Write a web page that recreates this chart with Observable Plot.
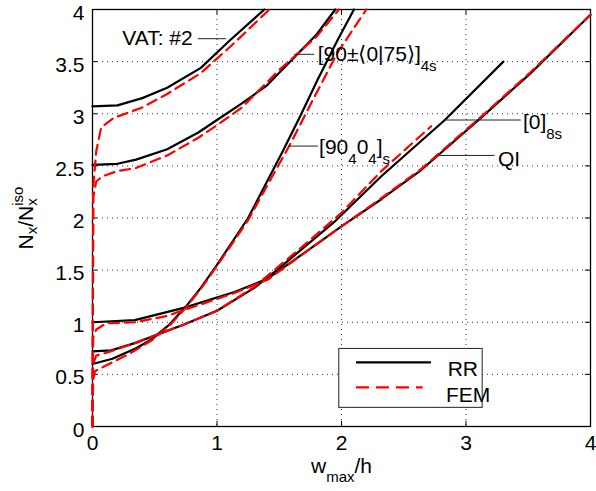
<!DOCTYPE html>
<html><head><meta charset="utf-8">
<script src="https://cdn.jsdelivr.net/npm/d3@7"></script>
<script src="https://cdn.jsdelivr.net/npm/@observablehq/plot@0.6"></script>
<style>body{margin:0;background:#fff}</style>
</head><body><div id="chart"></div>
<script>
// ---- data ----
const xTicks = [0, 1, 2, 3, 4];
const yTicks = [0, 0.5, 1, 1.5, 2, 2.5, 3, 3.5, 4];

// RR (Rayleigh-Ritz) curves
const rrVAT2 = [[0,3.07],[0.2,3.08],[0.4,3.15],[0.6,3.25],[0.87,3.44],[1.1,3.70],[1.38,4.0]];
const rrVAT75 = [[0,2.51],[0.2,2.52],[0.35,2.56],[0.6,2.66],[0.85,2.82],[1.0,2.94],[1.2,3.10],[1.4,3.27],[1.62,3.54],[1.8,3.76],[1.95,4.0]];
const rrCross = [[0,0.6],[0.16,0.65],[0.35,0.75],[0.48,0.84],[0.62,0.98],[0.75,1.15],[0.87,1.33],[1.0,1.55],[1.25,2.0],[1.52,2.62],[1.67,2.98],[1.81,3.33],[1.97,3.71],[2.1,4.0]];
const rrZero = [[0,0.72],[0.15,0.73],[0.34,0.80],[0.74,0.98],[1.0,1.11],[1.3,1.33],[1.5,1.52],[1.67,1.69],[1.94,1.96],[2.32,2.40],[2.83,2.94],[3.3,3.5]];
const rrQI = [[0,1.0],[0.34,1.02],[0.74,1.14],[1.14,1.29],[1.41,1.42],[1.73,1.69],[2.0,1.92],[2.32,2.18],[2.64,2.46],[3.12,2.96],[3.52,3.39],[4.0,3.95]];

// FEM curves
const femVAT2 = [[0,0],[0.006,2.3],[0.03,2.64],[0.07,2.87],[0.17,2.96],[0.4,3.06],[0.6,3.19],[0.87,3.39],[1.14,3.68],[1.42,4.0]];
const femVAT75 = [[0,0],[0.006,2.2],[0.03,2.35],[0.08,2.40],[0.2,2.45],[0.35,2.48],[0.6,2.60],[0.85,2.77],[1.0,2.89],[1.2,3.06],[1.5,3.42],[1.8,3.74],[1.98,4.0]];
const femCross = [[0,0],[0.005,0.45],[0.02,0.53],[0.1,0.58],[0.3,0.70],[0.48,0.83],[0.62,0.97],[0.75,1.14],[0.87,1.32],[1.0,1.54],[1.25,1.98],[1.5,2.52],[1.58,2.69],[1.76,3.11],[1.97,3.59],[2.2,4.0]];
const femZero = [[0,0],[0.005,0.6],[0.03,0.68],[0.12,0.71],[0.34,0.80],[0.74,0.98],[1.0,1.11],[1.3,1.34],[1.5,1.54],[1.7,1.74],[2.0,2.05],[2.32,2.45],[2.72,2.88]];
const femQI = [[0,0],[0.005,0.85],[0.03,0.93],[0.11,0.99],[0.34,1.0],[0.6,1.06],[0.74,1.12],[1.14,1.28],[1.41,1.41],[1.73,1.69],[2.0,1.92],[2.32,2.19],[2.64,2.47],[3.12,2.97],[3.52,3.40],[4.0,3.95]];

// curve labels with leader lines
const labels = [
  {text: "VAT: #2",     x: 0.805, y: 3.659, anchor: "end",   lx1: 0.845, lx2: 1.073, ly: 3.72},
  {text: "[90±⟨0|75⟩]4s", x: 1.809, y: 3.506, anchor: "start", lx1: 1.62, lx2: 1.78, ly: 3.57},
  {text: "[904 04]s",   x: 1.82,  y: 2.618, anchor: "start", lx1: 1.57, lx2: 1.81, ly: 2.69},
  {text: "[0]8s",       x: 3.457, y: 2.851, anchor: "start", lx1: 2.826, lx2: 3.44, ly: 2.94},
  {text: "QI",          x: 3.257, y: 2.495, anchor: "start", lx1: 2.77, lx2: 3.23, ly: 2.60}
];

// legend
const legendBox = {x1: 1.982, x2: 3.134, y1: 0.179, y2: 0.744};
const legendItems = [
  {name: "RR",  x1: 2.116, x2: 2.719, y: 0.616, tx: 2.853, ty: 0.489},
  {name: "FEM", x1: 2.116, x2: 2.652, y: 0.376, tx: 2.839, ty: 0.233}
];

// ---- table ----
const toRows = (pts, curve, method) => pts.map(([x, y]) => ({curve, method, x, y}));
const rows = [
  ...toRows(rrVAT2, "VAT2", "RR"), ...toRows(rrVAT75, "VAT75", "RR"), ...toRows(rrCross, "Cross", "RR"),
  ...toRows(rrZero, "Zero", "RR"), ...toRows(rrQI, "QI", "RR"),
  ...toRows(femVAT2, "VAT2", "FEM"), ...toRows(femVAT75, "VAT75", "FEM"), ...toRows(femCross, "Cross", "FEM"),
  ...toRows(femZero, "Zero", "FEM"), ...toRows(femQI, "QI", "FEM")
];
const RR = rows.filter(d => d.method === "RR");
const FEM = rows.filter(d => d.method === "FEM");

const font = "'Liberation Sans', Arial, Helvetica, sans-serif";
const T = {fontFamily: font, fontSize: 21, fill: "black"};

const chart = Plot.plot({
  width: 596, height: 491,
  marginLeft: 92, marginRight: 6, marginTop: 9, marginBottom: 65,
  x: {domain: [0, 4], axis: null},
  y: {domain: [0, 4], axis: null},
  style: {fontFamily: font, fontSize: "21px", background: "white", color: "black", overflow: "visible"},
  marks: [
    // dotted grid
    Plot.ruleX(xTicks.slice(1, -1), {x: d => d, stroke: "#333", strokeWidth: 1, strokeDasharray: "1,4"}),
    Plot.ruleY(yTicks.slice(1, -1), {y: d => d, stroke: "#333", strokeWidth: 1, strokeDasharray: "1,4"}),
    // inward ticks on all four sides
    Plot.ruleX(xTicks, {x: d => d, y1: 0, y2: 0.05, stroke: "black"}),
    Plot.ruleX(xTicks, {x: d => d, y1: 3.95, y2: 4, stroke: "black"}),
    Plot.ruleY(yTicks, {y: d => d, x1: 0, x2: 0.04, stroke: "black"}),
    Plot.ruleY(yTicks, {y: d => d, x1: 3.96, x2: 4, stroke: "black"}),
    Plot.frame({stroke: "black", strokeWidth: 1.3}),
    // curves
    Plot.line(RR, {x: "x", y: "y", z: "curve", stroke: "black", strokeWidth: 2.2}),
    Plot.line(FEM, {x: "x", y: "y", z: "curve", stroke: "#ff0000", strokeWidth: 2.2, strokeDasharray: "10,6"}),
    // leader lines + labels
    Plot.link(labels, {x1: "lx1", x2: "lx2", y1: "ly", y2: "ly", stroke: "#222", strokeWidth: 1}),
    Plot.text(labels.filter(d => d.anchor === "end"), {...T, x: "x", y: "y", text: "text", textAnchor: "end", lineAnchor: "bottom"}),
    Plot.text(labels.filter(d => d.anchor === "start"), {...T, x: "x", y: "y", text: "text", textAnchor: "start", lineAnchor: "bottom"}),
    // legend
    Plot.rect([legendBox], {x1: "x1", x2: "x2", y1: "y1", y2: "y2", fill: "white", stroke: "#222", strokeWidth: 1}),
    Plot.link([legendItems[0]], {x1: "x1", x2: "x2", y1: "y", y2: "y", stroke: "black", strokeWidth: 2.2}),
    Plot.link([legendItems[1]], {x1: "x1", x2: "x2", y1: "y", y2: "y", stroke: "#ff0000", strokeWidth: 2.2, strokeDasharray: "13,7"}),
    Plot.text(legendItems, {...T, x: "tx", y: "ty", text: "name", textAnchor: "start", lineAnchor: "bottom"}),
    // tick labels
    Plot.text(xTicks, {...T, x: d => d, y: 0, text: d => String(d), dy: 23, lineAnchor: "bottom"}),
    Plot.text(yTicks, {...T, x: 0, y: d => d, text: d => String(d), dx: -8, dy: 10, textAnchor: "end", lineAnchor: "bottom"}),
    // axis labels
    Plot.text(["Nx/Nxiso"], {...T, frameAnchor: "left", text: d => d, dx: -60, rotate: -90, lineAnchor: "bottom", textAnchor: "middle"}),
    Plot.text(["wmax/h"], {...T, frameAnchor: "bottom", text: d => d, dy: 46, lineAnchor: "bottom", textAnchor: "middle"})
  ]
});
document.getElementById("chart").appendChild(chart);

// ---- rich text (sub/superscripts) ----
const SUB = "sub", SUP = "sup";
const rich = {
  "Nx/Nxiso": {sub: 4, sup: 10, segs: [["N"], ["x", SUB], ["/N"], ["x", SUB], ["iso", SUP, -7.5]]},
  "wmax/h": {sub: 9, sup: 9, segs: [["w"], ["max", SUB], ["/h"]]},
  "[90±⟨0|75⟩]4s": {sub: 10, sup: 9, segs: [["[90±⟨0|75⟩]"], ["4s", SUB]]},
  "[904 04]s": {sub: 10, sup: 9, segs: [["[90"], ["4", SUB], ["0"], ["4", SUB], ["]"], ["s", SUB]]},
  "[0]8s": {sub: 10, sup: 9, segs: [["[0]"], ["8s", SUB]]}
};
const ns = "http://www.w3.org/2000/svg";
chart.querySelectorAll("text").forEach(el => {
  const spec = rich[el.textContent];
  if (!spec) return;
  el.textContent = "";
  let cur = 0;
  spec.segs.forEach(([t, lvl, dx]) => {
    const ts = document.createElementNS(ns, "tspan");
    ts.textContent = t;
    const target = lvl === SUB ? spec.sub : lvl === SUP ? -spec.sup : 0;
    if (target !== cur) ts.setAttribute("dy", target - cur);
    cur = target;
    if (dx) ts.setAttribute("dx", dx);
    if (lvl) ts.setAttribute("font-size", "15px");
    el.appendChild(ts);
  });
});
</script>
</body></html>
